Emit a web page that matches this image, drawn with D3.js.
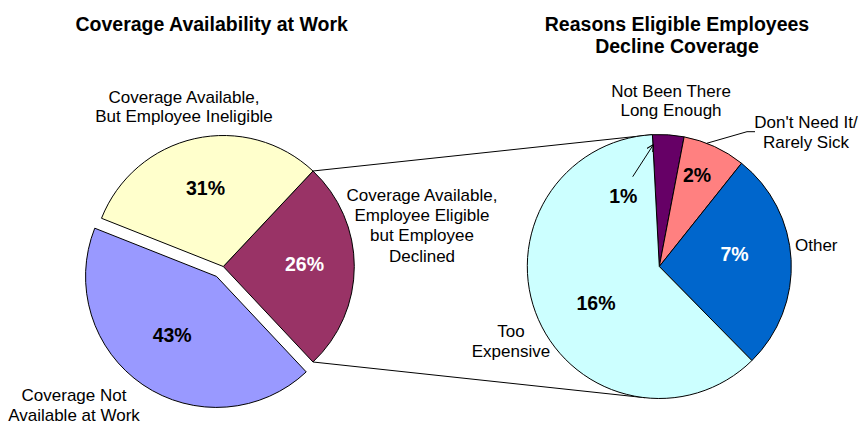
<!DOCTYPE html>
<html>
<head>
<meta charset="utf-8">
<script src="https://cdn.jsdelivr.net/npm/d3@7"></script>
<style>
  html, body { margin: 0; padding: 0; background: #fff; }
  svg { display: block; font-family: "Liberation Sans", Arial, sans-serif; }
</style>
</head>
<body>
<svg id="chart" width="859" height="430"></svg>
<script>
// ---- Data ----
const mainCategories = ["Coverage Available, Employee Eligible but Employee Declined",
                        "Coverage Not Available at Work",
                        "Coverage Available, But Employee Ineligible"];
const mainValues = [26, 43, 31];
const mainColors = ["#993366", "#9999FF", "#FFFFCC"];

const subCategories = ["Not Been There Long Enough", "Don't Need It/ Rarely Sick", "Other", "Too Expensive"];
const subValues = [1, 2, 7, 16];
const subColors = ["#660066", "#FF8080", "#0066CC", "#CCFFFF"];

const titles = ["Coverage Availability at Work", "Reasons Eligible Employees", "Decline Coverage"];

// ---- Layout ----
const svg = d3.select("#chart");
const deg = Math.PI / 180;
const L = { cx: 223.3, cy: 266.5, r: 131, explode: 12 };
const R = { cx: 659.3, cy: 266.5, r: 132 };

const mainStart = 43.2 * deg;
const subStart = -3 * deg;

const pieMain = d3.pie().sort(null).value(d => d).startAngle(mainStart).endAngle(mainStart + 2 * Math.PI);
const pieSub = d3.pie().sort(null).value(d => d).startAngle(subStart).endAngle(subStart + 2 * Math.PI);

const arcMain = d3.arc().innerRadius(0).outerRadius(L.r);
const arcSub = d3.arc().innerRadius(0).outerRadius(R.r);

const mainArcs = pieMain(mainValues);
const subArcs = pieSub(subValues);

function polar(cx, cy, r, a) { return [cx + r * Math.sin(a), cy - r * Math.cos(a)]; }

// connector lines (drawn under pies)
const declined = mainArcs[0];
const pTop = polar(L.cx, L.cy, L.r, declined.startAngle);
const pBot = polar(L.cx, L.cy, L.r, declined.endAngle);
const qTop = polar(R.cx, R.cy, R.r, subArcs[0].startAngle);
const qBot = polar(R.cx, R.cy, R.r, 186.2 * deg);
svg.append("line").attr("x1", pTop[0]).attr("y1", pTop[1]).attr("x2", qTop[0]).attr("y2", qTop[1])
  .attr("stroke", "#000").attr("stroke-width", 1);
svg.append("line").attr("x1", pBot[0]).attr("y1", pBot[1]).attr("x2", qBot[0]).attr("y2", qBot[1])
  .attr("stroke", "#000").attr("stroke-width", 1);

// main pie
const gMain = svg.append("g").attr("transform", `translate(${L.cx},${L.cy})`);
gMain.selectAll("path").data(mainArcs).join("path")
  .attr("d", arcMain)
  .attr("fill", (d, i) => mainColors[i])
  .attr("stroke", "#000").attr("stroke-width", 1).attr("stroke-linejoin", "round")
  .attr("transform", (d, i) => {
    if (i !== 1) return null;
    const a = (d.startAngle + d.endAngle) / 2;
    return `translate(${L.explode * Math.sin(a)},${-L.explode * Math.cos(a)})`;
  });

// sub pie
const gSub = svg.append("g").attr("transform", `translate(${R.cx},${R.cy})`);
gSub.selectAll("path").data(subArcs).join("path")
  .attr("d", arcSub)
  .attr("fill", (d, i) => subColors[i])
  .attr("stroke", "#000").attr("stroke-width", 1).attr("stroke-linejoin", "round");

// ---- Titles ----
const titleFont = { size: 19.5, weight: "bold" };
function text(x, y, str, opts = {}) {
  return svg.append("text").attr("x", x).attr("y", y)
    .attr("text-anchor", opts.anchor || "middle")
    .attr("font-size", opts.size || 17)
    .attr("font-weight", opts.weight || "normal")
    .attr("fill", opts.fill || "#000")
    .text(str);
}
text(211.7, 30.5, titles[0], titleFont);
text(677, 30.7, titles[1], titleFont);
text(677, 53.3, titles[2], titleFont);

// ---- Category labels ----
function multiline(x, y0, lines, dy, anchor) {
  lines.forEach((s, i) => text(x, y0 + i * dy, s, { anchor: anchor || "middle" }));
}
multiline(184, 102.5, ["Coverage Available,", "But Employee Ineligible"], 19.3);
multiline(422, 200.7, ["Coverage Available,", "Employee Eligible", "but Employee", "Declined"], 20.3);
multiline(74, 400.7, ["Coverage Not", "Available at Work"], 19.8);
multiline(671, 96.7, ["Not Been There", "Long Enough"], 19.5);
multiline(806, 128.3, ["Don't Need It/", "Rarely Sick"], 19.3);
text(795, 250.7, "Other", { anchor: "start" });
multiline(511, 337.3, ["Too", "Expensive"], 19.4);

// leader line for Don't Need It
svg.append("polyline").attr("points", "706.7,143.3 747,131.7 755,131.7")
  .attr("fill", "none").attr("stroke", "#000").attr("stroke-width", 1);

// arrow for Not Been There
svg.append("defs").append("marker").attr("id", "ah")
  .attr("viewBox", "0 0 10 10").attr("refX", 10).attr("refY", 5)
  .attr("markerWidth", 7).attr("markerHeight", 7).attr("orient", "auto")
  .attr("markerUnits", "userSpaceOnUse")
  .append("path").attr("d", "M0,0 L10,5 L0,10").attr("fill", "none").attr("stroke", "#000").attr("stroke-width", 1.4);
svg.append("line").attr("x1", 632.7).attr("y1", 176.7).attr("x2", 653.5).attr("y2", 144.5)
  .attr("stroke", "#000").attr("stroke-width", 1).attr("marker-end", "url(#ah)");

// ---- Percent labels ----
const mainPct = [[304.5, 270.7, "#fff"], [172.2, 342.3, "#000"], [205.5, 195, "#000"]];
mainValues.forEach((v, i) => text(mainPct[i][0], mainPct[i][1], v + "%", { size: 19.5, weight: "bold", fill: mainPct[i][2] }));
const subPct = [[623.3, 203, "#000"], [697, 181.7, "#000"], [734.5, 261, "#fff"], [596, 310, "#000"]];
subValues.forEach((v, i) => text(subPct[i][0], subPct[i][1], v + "%", { size: 19.5, weight: "bold", fill: subPct[i][2] }));
</script>
</body>
</html>
